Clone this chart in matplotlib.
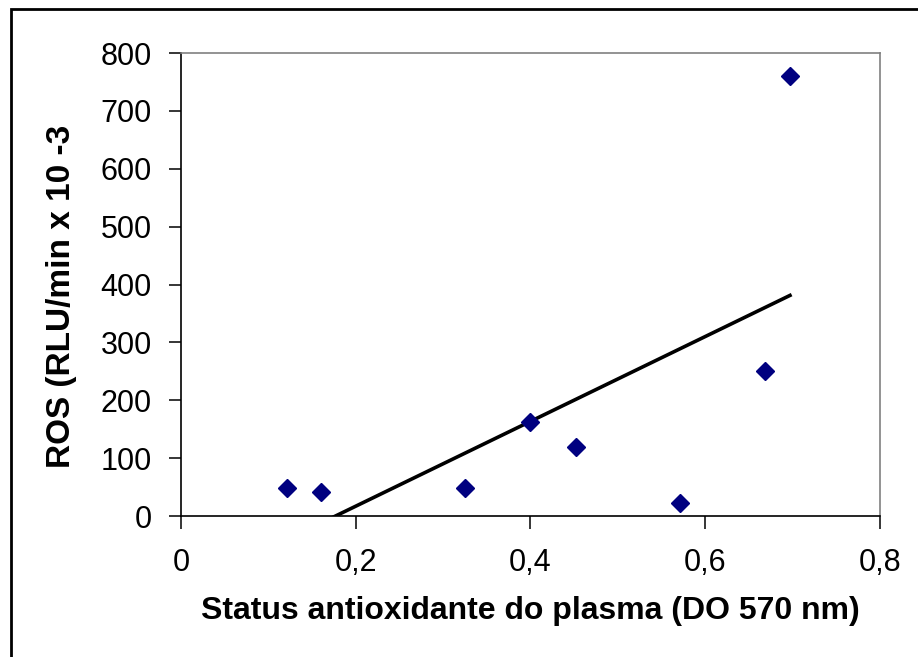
import matplotlib
matplotlib.use("Agg")
import matplotlib.pyplot as plt
import numpy as np
from matplotlib.patches import Rectangle

plt.rcParams['font.family'] = ['Liberation Sans', 'DejaVu Sans']

# plasma antioxidant status (OD 570 nm) vs ROS production
status = [0.121, 0.160, 0.325, 0.400, 0.452, 0.571, 0.668, 0.697]
ros = [48, 41, 48, 162, 119, 22, 250, 760]

x_ticks = [0, 0.2, 0.4, 0.6, 0.8]
x_ticklabels = ['0', '0,2', '0,4', '0,6', '0,8']
y_ticks = [0, 100, 200, 300, 400, 500, 600, 700, 800]

fig = plt.figure(figsize=(9.18, 6.57), dpi=100)
ax = fig.add_axes([0.197, 0.2146, 0.7616, 0.7047])

ax.plot(status, ros, linestyle='none', marker='D', markersize=9.5,
        color='#000080', zorder=3)

# linear trendline over the data range
slope, intercept = np.polyfit(status, ros, 1)
xs = np.array([min(status), max(status)])
ax.plot(xs, slope * xs + intercept, color='black', linewidth=2.6, zorder=2)

ax.set_xlim(0, 0.8)
ax.set_ylim(0, 800)
ax.set_xticks(x_ticks)
ax.set_xticklabels(x_ticklabels)
ax.set_yticks(y_ticks)

for side in ['left', 'bottom']:
    ax.spines[side].set_color('black')
    ax.spines[side].set_linewidth(1.2)
for side in ['top', 'right']:
    ax.spines[side].set_color('#808080')
    ax.spines[side].set_linewidth(1.2)

ax.tick_params(direction='out', length=9, width=1.1, color='black',
               labelsize=22)
ax.tick_params(axis='y', pad=12)
ax.tick_params(axis='x', pad=14)

ax.set_xlabel('Status antioxidante do plasma (DO 570 nm)', fontsize=23,
              fontweight='bold', va='center')
ax.xaxis.set_label_coords(0.5, -0.205)
ax.set_ylabel('ROS (RLU/min x 10 -3', fontsize=24, fontweight='bold',
              va='center', ha='center')
ax.yaxis.set_label_coords(-0.170, 0.475)

# chart frame
fig.patches.append(Rectangle((11 / 918, -0.1), 1.2, 1 - 9 / 657 + 0.1,
                             transform=fig.transFigure, fill=False,
                             edgecolor='black', linewidth=2))

fig.savefig('out.png', dpi=100)
